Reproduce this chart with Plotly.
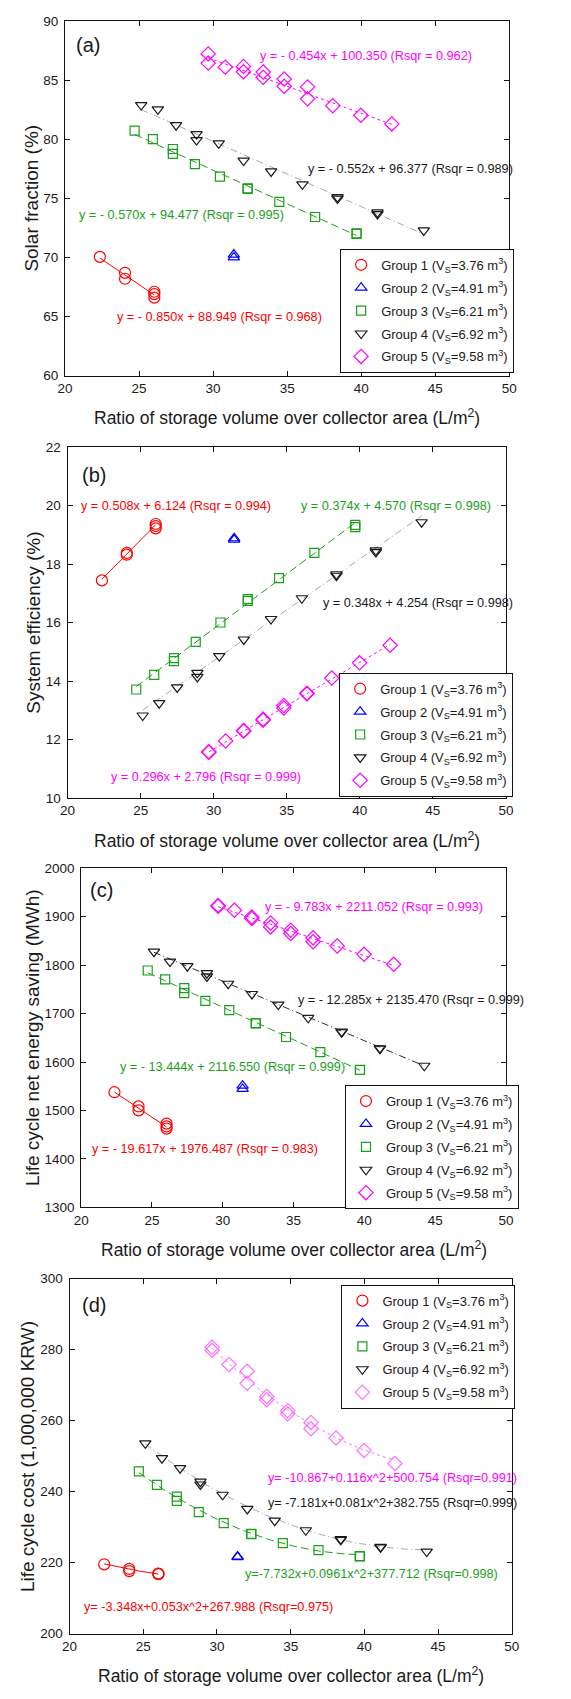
import numpy as np
import plotly.graph_objects as go

W, H = 571, 1699

# ---------------- data ----------------
group_names = [
    "Group 1 (V<sub>S</sub>=3.76 m<sup>3</sup>)",
    "Group 2 (V<sub>S</sub>=4.91 m<sup>3</sup>)",
    "Group 3 (V<sub>S</sub>=6.21 m<sup>3</sup>)",
    "Group 4 (V<sub>S</sub>=6.92 m<sup>3</sup>)",
    "Group 5 (V<sub>S</sub>=9.58 m<sup>3</sup>)",
]

x_g1 = [22.35, 24.05, 24.05, 26.03, 26.03, 26.03]
x_g2 = [31.4, 31.4]
x_g3 = [24.7, 25.93, 27.28, 27.28, 28.77, 30.46, 32.33, 32.33, 34.47, 36.89, 39.69, 39.69]
x_g4 = [25.14, 26.27, 27.5, 28.88, 28.88, 30.38, 32.06, 33.92, 36.03, 38.4, 38.4, 41.1, 41.1, 44.23]
x_g5 = [29.67, 29.67, 30.82, 32.05, 32.05, 33.38, 33.38, 34.8, 34.8, 36.38, 36.38, 38.08, 39.98, 42.07]

# (a) solar fraction (%)
sf_g1 = [70.05, 68.7, 68.2, 67.1, 66.9, 66.6]
sf_g2 = [70.24, 70.0]
sf_g3 = [80.73, 80.0, 79.17, 78.75, 77.89, 76.83, 75.85, 75.8, 74.7, 73.42, 72.03, 72.0]
sf_g4 = [82.88, 82.52, 81.18, 80.43, 79.92, 79.65, 78.19, 77.27, 76.18, 75.1, 74.98, 73.81, 73.67, 72.28]
sf_g5 = [87.21, 86.43, 86.09, 86.15, 85.7, 85.67, 85.23, 85.09, 84.47, 84.42, 83.41, 82.83, 82.02, 81.29]

# (b) system efficiency (%)
se_g1 = [17.44, 18.38, 18.32, 19.37, 19.3, 19.22]
se_g2 = [18.88, 18.83]
se_g3 = [13.71, 14.21, 14.78, 14.68, 15.34, 16.0, 16.8, 16.74, 17.52, 18.38, 19.34, 19.26]
se_g4 = [12.82, 13.24, 13.78, 14.28, 14.14, 14.85, 15.42, 16.12, 16.83, 17.65, 17.6, 18.47, 18.41, 19.43]
se_g5 = [11.56, 11.58, 11.95, 12.31, 12.29, 12.69, 12.66, 13.16, 13.08, 13.58, 13.56, 14.1, 14.62, 15.22]

# (c) life cycle net energy saving (MWh)
le_g1 = [1537.7, 1508.3, 1500.2, 1472.8, 1467.0, 1462.6]
le_g2 = [1551.3, 1544.5]
le_g3 = [1789.0, 1770.5, 1752.8, 1742.5, 1726.2, 1707.0, 1680.4, 1680.0, 1651.7, 1620.3, 1584.1, 1583.5]
le_g4 = [1827.9, 1807.5, 1797.9, 1783.5, 1776.7, 1761.7, 1740.5, 1718.6, 1691.3, 1662.6, 1661.5, 1628.5, 1627.5, 1592.3]
le_g5 = [1923.5, 1921.5, 1913.3, 1899.6, 1896.2, 1887.3, 1879.1, 1872.3, 1865.5, 1856.6, 1848.4, 1839.5, 1822.4, 1802.0]

# (d) life cycle cost (1,000,000 KRW)
lc_g1 = [219.5, 218.2, 217.6, 216.9, 216.8, 216.7]
lc_g2 = [221.7, 221.5]
lc_g3 = [245.7, 241.9, 238.6, 237.4, 234.2, 231.1, 228.1, 228.0, 225.5, 223.5, 221.8, 221.7]
lc_g4 = [253.6, 249.4, 246.6, 242.8, 242.0, 239.1, 235.1, 231.8, 229.1, 226.6, 226.4, 224.4, 224.3, 223.1]
lc_g5 = [280.7, 279.8, 275.8, 273.9, 270.5, 266.8, 265.9, 262.8, 261.9, 259.5, 257.7, 255.1, 251.6, 247.9]

# fit coefficients (constant, x, x^2) as printed on the chart
fit_a = {1: [88.949, -0.850], 3: [94.477, -0.570], 4: [96.377, -0.552], 5: [100.350, -0.454]}
fit_b = {1: [6.124, 0.508], 3: [4.570, 0.374], 4: [4.254, 0.348], 5: [2.796, 0.296]}
fit_c = {1: [1976.487, -19.617], 3: [2116.550, -13.444], 4: [2135.470, -12.285], 5: [2211.052, -9.783]}
fit_d = {1: [267.988, -3.348, 0.053], 3: [377.712, -7.732, 0.0961],
         4: [382.755, -7.181, 0.081], 5: [500.754, -10.867, 0.116]}

# equation labels: (group, text, x, y)
eq_a = [(5, "y = - 0.454x + 100.350 (Rsqr = 0.962)", 33.06, 86.99),
        (4, "y = - 0.552x + 96.377 (Rsqr = 0.989)", 36.28, 77.5),
        (3, "y = - 0.570x + 94.477 (Rsqr = 0.995)", 20.81, 73.59),
        (1, "y = - 0.850x + 88.949 (Rsqr = 0.968)", 23.37, 65.0)]
eq_b = [(1, "y = 0.508x + 6.124 (Rsqr = 0.994)", 20.8, 19.99),
        (3, "y = 0.374x + 4.570 (Rsqr = 0.998)", 35.81, 19.99),
        (4, "y = 0.348x + 4.254 (Rsqr = 0.998)", 37.32, 16.68),
        (5, "y = 0.296x + 2.796 (Rsqr = 0.999)", 22.84, 10.7)]
eq_c = [(5, "y = - 9.783x + 2211.052 (Rsqr = 0.993)", 32.86, 1920.1),
        (4, "y = - 12.285x + 2135.470 (Rsqr = 0.999)", 35.15, 1728.9),
        (3, "y = - 13.444x + 2116.550 (Rsqr = 0.999)", 22.61, 1590.3),
        (1, "y = - 19.617x + 1976.487 (Rsqr = 0.983)", 20.62, 1419.5)]
eq_d = [(5, "y= -10.867+0.116x^2+500.754 (Rsqr=0.991)", 33.36, 243.95),
        (4, "y= -7.181x+0.081x^2+382.755 (Rsqr=0.999)", 33.36, 236.7),
        (3, "y=-7.732x+0.0961x^2+377.712 (Rsqr=0.998)", 31.76, 216.7),
        (1, "y= -3.348x+0.053x^2+267.988 (Rsqr=0.975)", 20.88, 207.6)]

y_titles = ["Solar fraction (%)", "System efficiency (%)",
            "Life cycle net energy saving (MWh)", "Life cycle cost (1,000,000 KRW)"]
x_title = "Ratio of storage volume over collector area (L/m<sup>2</sup>)"
panel_labels = ["(a)", "(b)", "(c)", "(d)"]
y_ranges = [(60, 90, 5), (10, 22, 2), (1300, 2000, 100), (200, 300, 20)]

# ---------------- styles / layout geometry (pixels) ----------------
FONT = "Liberation Sans, Arial, sans-serif"
TXT = "#1a1a1a"
colors = {1: "#ff0000", 2: "#0000ff", 3: "#1aa01a", 4: "#1a1a1a", 5: "#ff00ff"}
symbols = {1: "circle-open", 2: "triangle-up-open", 3: "square-open",
           4: "triangle-down-open", 5: "diamond-open"}
msize = {1: 11, 2: 10, 3: 9, 4: 10, 5: 11}
dashes = {1: "solid", 3: "8px,4px", 4: "7px,3px,1px,3px", 5: "dot"}

# plot areas: (left, right, top, bottom)
boxes = [(58.7, 515.7, 14, 372), (61.3, 512.3, 444, 798),
         (75.3, 512.3, 869, 1211), (63.3, 518.3, 1283, 1641)]
legend_pos = [(341.7, 244), (340.7, 671.7), (346.7, 1087.7), (343, 1289)]
ytitle_x = [24, 26, 26, 19.5]
label_off = [(24, 24), (27, 28), (21, 22), (25, 27)]

def fx(px):
    return px / W

def fy(py):
    return 1 - py / H

panels = [
    ([sf_g1, sf_g2, sf_g3, sf_g4, sf_g5], fit_a, eq_a),
    ([se_g1, se_g2, se_g3, se_g4, se_g5], fit_b, eq_b),
    ([le_g1, le_g2, le_g3, le_g4, le_g5], fit_c, eq_c),
    ([lc_g1, lc_g2, lc_g3, lc_g4, lc_g5], fit_d, eq_d),
]
xs = [x_g1, x_g2, x_g3, x_g4, x_g5]

fig = go.Figure()
annotations = []
layout = dict(width=W, height=H, margin=dict(l=0, r=0, t=0, b=0),
              paper_bgcolor="white", plot_bgcolor="white",
              font=dict(family=FONT, color=TXT, size=13), showlegend=True)

for p, (ys, fits, eqs) in enumerate(panels):
    k = "" if p == 0 else str(p + 1)
    xa, ya = "x" + k, "y" + k
    leg = "legend" + k
    line_col4 = "#2a2a2a" if p == 2 else "#a3a3c6"
    col5 = "#ff70ff" if p == 3 else "#ff00ff"
    # fit lines
    for g, coef in fits.items():
        xg = xs[g - 1]
        xx = np.linspace(min(xg), max(xg), 60)
        yy = np.polynomial.polynomial.polyval(xx, coef)
        lc = colors[g]
        if g == 4:
            lc = line_col4
        if g == 5:
            lc = col5
        fig.add_trace(go.Scatter(x=xx, y=yy, mode="lines", xaxis=xa, yaxis=ya,
                                 line=dict(color=lc, width=1, dash=dashes[g]),
                                 showlegend=False, hoverinfo="skip"))
    # markers
    for g in range(1, 6):
        c = col5 if g == 5 else colors[g]
        fig.add_trace(go.Scatter(x=xs[g - 1], y=ys[g - 1], mode="markers",
                                 xaxis=xa, yaxis=ya, name=group_names[g - 1],
                                 legend=leg, legendgroup=f"p{p}g{g}",
                                 marker=dict(symbol=symbols[g], size=msize[g], color=c,
                                             line=dict(width=1.2, color=c))))
    # axes
    L, R, T, B = boxes[p]
    y0, y1, dy = y_ranges[p]
    common = dict(showline=True, linecolor="#111111", linewidth=1, mirror="ticks",
                  ticks="inside", ticklen=5, tickwidth=1, tickcolor="#111111",
                  showgrid=False, zeroline=False,
                  tickfont=dict(family=FONT, size=13.5, color=TXT))
    layout["xaxis" + k] = dict(common, domain=[fx(L), fx(R)], range=[20, 50],
                               tick0=20, dtick=5, anchor=ya)
    layout["yaxis" + k] = dict(common, domain=[fy(B), fy(T)], range=[y0, y1],
                               tick0=y0, dtick=dy, anchor=xa, ticklabelstandoff=3)
    # legend
    lx, ly = legend_pos[p]
    layout[leg] = dict(x=fx(lx), y=fy(ly), xanchor="left", yanchor="top",
                       bgcolor="white", bordercolor="#111111", borderwidth=1,
                       font=dict(family=FONT, size=13, color=TXT),
                       traceorder="grouped", tracegroupgap=3, itemsizing="trace")
    # equations
    for g, txt, ex, ey in eqs:
        c = colors[g]
        annotations.append(dict(x=ex, y=ey, xref=xa, yref=ya, text=txt, showarrow=False,
                                xanchor="left", yanchor="middle",
                                font=dict(family=FONT, size=12.7, color=c)))
    # panel label
    ox, oy = label_off[p]
    annotations.append(dict(x=fx(L + ox), y=fy(T + oy), xref="paper", yref="paper",
                            text=panel_labels[p], showarrow=False,
                            xanchor="center", yanchor="middle",
                            font=dict(family=FONT, size=20, color=TXT)))
    # axis titles
    annotations.append(dict(x=fx((L + R) / 2), y=fy(B + 42), xref="paper", yref="paper",
                            text=x_title, showarrow=False, xanchor="center", yanchor="middle",
                            font=dict(family=FONT, size=17.5, color=TXT)))
    annotations.append(dict(x=fx(ytitle_x[p]), y=fy((T + B) / 2), xref="paper", yref="paper",
                            text=y_titles[p], showarrow=False, textangle=-90,
                            xanchor="center", yanchor="middle",
                            font=dict(family=FONT, size=19, color=TXT)))

layout["annotations"] = annotations
fig.update_layout(**layout)
fig.write_html("out.html")
